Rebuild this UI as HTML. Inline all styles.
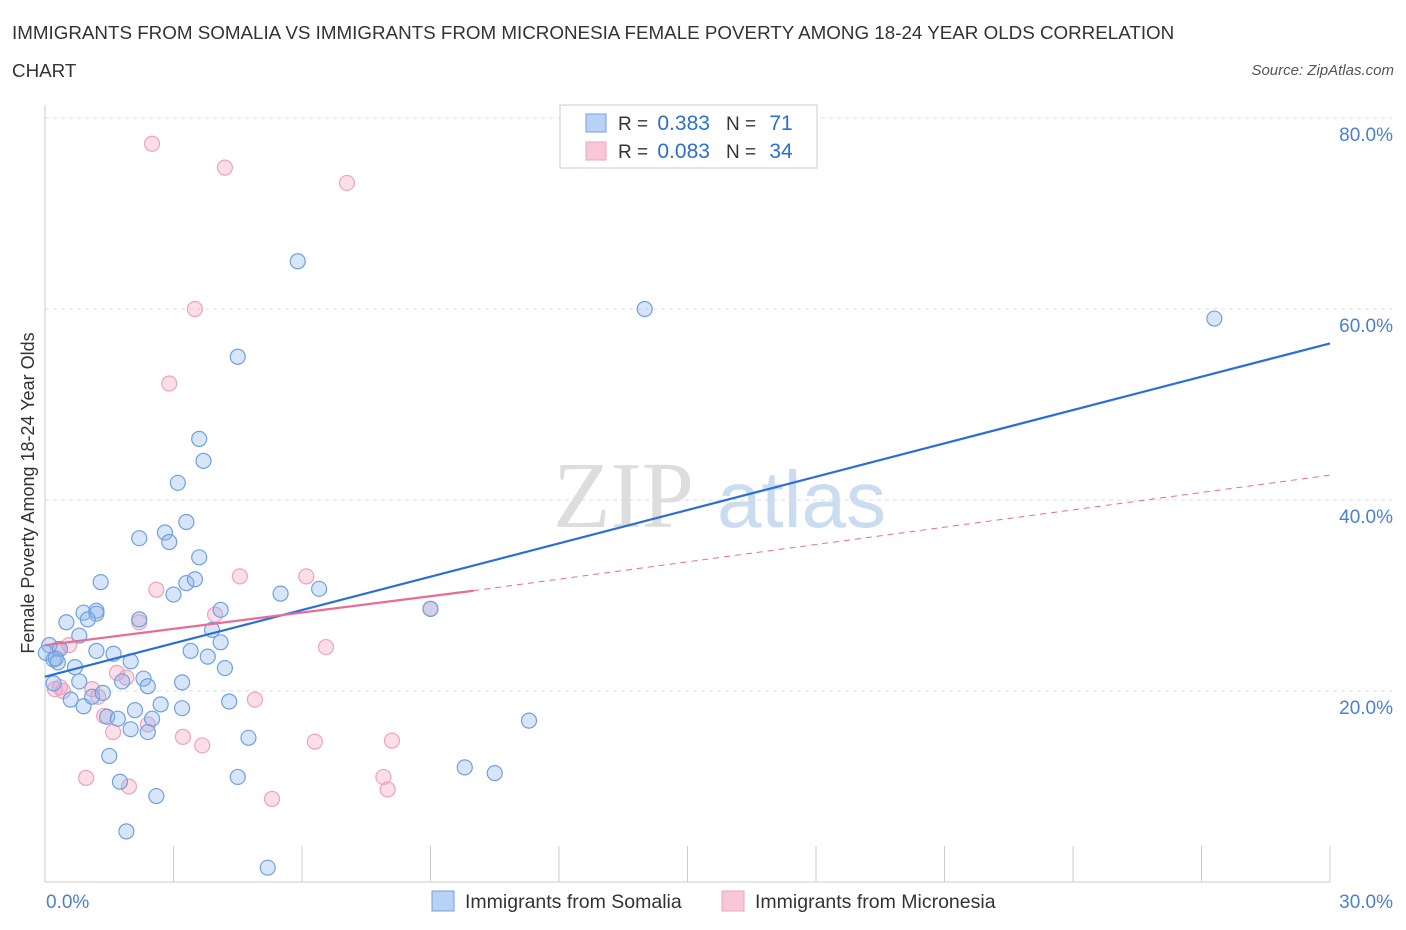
<!DOCTYPE html>
<html><head><meta charset="utf-8"><style>
body{margin:0;background:#fff;font-family:"Liberation Sans",sans-serif;}
#wrap{position:relative;width:1406px;height:930px;overflow:hidden}
.t{position:absolute;white-space:nowrap}
</style></head><body><div id="wrap">
<div class="t" style="left:12px;top:14px;font-size:18.8px;color:#333;line-height:38px">IMMIGRANTS FROM SOMALIA VS IMMIGRANTS FROM MICRONESIA FEMALE POVERTY AMONG 18-24 YEAR OLDS CORRELATION<br>CHART</div>
<div class="t" style="right:12px;top:62px;font-size:15px;color:#555;font-style:italic">Source: ZipAtlas.com</div>
<svg id="svg" width="1406" height="930" style="position:absolute;left:0;top:0"></svg>
</div>
<script>
const yTicks=[20,40,60,80];
const yTickLabels=["20.0%","40.0%","60.0%","80.0%"];
const somaliaX=[5.9,14.0,27.3,4.5,3.6,3.7,3.1,3.3,2.2,2.8,2.9,3.6,3.3,3.5,3.0,5.5,6.4,1.3,1.2,0.9,1.2,0.5,1.0,2.2,4.1,0.8,3.9,4.1,3.4,3.8,0.1,0.35,0.2,0.3,0.7,1.2,1.6,2.0,4.2,2.3,2.4,1.8,0.8,3.2,0.2,0.6,0.9,1.1,1.35,2.7,4.3,3.2,2.1,1.45,1.7,2.5,2.0,2.4,4.75,11.3,1.5,9.8,10.5,4.5,1.75,2.6,1.9,5.2,9.0,0.02,0.25];
const somaliaY=[65.0,60.0,59.0,55.0,46.4,44.1,41.8,37.7,36.0,36.6,35.6,34.0,31.3,31.7,30.1,30.2,30.7,31.4,28.1,28.2,28.4,27.2,27.5,27.5,28.5,25.8,26.4,25.1,24.2,23.6,24.8,24.4,23.3,23.0,22.5,24.2,23.9,23.1,22.4,21.3,20.5,21.0,21.0,20.9,20.8,19.1,18.4,19.4,19.8,18.6,18.9,18.2,18.0,17.3,17.1,17.1,16.0,15.7,15.1,16.9,13.2,12.0,11.4,11.0,10.5,9.0,5.3,1.5,28.6,24.0,23.4];
const micronesiaX=[2.5,4.2,7.05,3.5,2.9,4.55,6.1,2.6,3.97,2.2,9.0,0.56,6.56,1.68,1.9,1.1,0.23,0.42,1.24,2.4,1.38,1.59,3.22,3.67,6.3,8.1,4.9,0.96,1.96,7.9,8.0,5.3,0.35,0.3];
const micronesiaY=[77.3,74.8,73.2,60.0,52.2,32.0,32.0,30.6,28.0,27.2,28.6,24.8,24.6,21.9,21.4,20.2,20.2,20.0,19.4,16.5,17.4,15.7,15.2,14.3,14.7,14.8,19.1,10.9,10.0,11.0,9.7,8.7,20.4,24.4];
const fitS=[21.5,56.4], fitM=[24.8,30.5,42.6];
const X0=45,X1=1330,Y0=882,PY=9.55;
const xs=v=>X0+(v/30)*(X1-X0), ys=v=>Y0-v*PY;
const svg=document.getElementById('svg');const NS='http://www.w3.org/2000/svg';
function mk(t,a,p){const e=document.createElementNS(NS,t);for(const k in a)e.setAttribute(k,a[k]);(p||svg).appendChild(e);return e;}
let w=mk('text',{x:553,y:527,'font-size':94,fill:'#ddd','font-family':'Liberation Serif'});w.textContent='ZIP';


let w2=mk('text',{x:717,y:527,'font-size':80,fill:'#c9dcf0','font-family':'Liberation Sans'});w2.textContent='atlas';


yTicks.forEach((v,i)=>{
 const g=mk('line',{x1:X0,x2:1392,y1:ys(v),y2:ys(v),stroke:'#ddd','stroke-dasharray':'4,4'});
 
 
 const t=mk('text',{x:1393,y:ys(v)+23,'text-anchor':'end','font-size':19,fill:'#4a7fd4'});t.textContent=yTickLabels[i];
 
 
});
const ax=mk('line',{x1:X0,x2:X0,y1:105,y2:Y0,stroke:'#ccc'});


const bx=mk('line',{x1:X0,x2:X1,y1:Y0,y2:Y0,stroke:'#ccc'});


for(let i=1;i<=10;i++){const l=mk('line',{x1:xs(i*3),x2:xs(i*3),y1:Y0,y2:Y0-36,stroke:'#ccc'});
 
 }
[['0.0%',X0+1,'start'],['30.0%',1393,'end']].forEach(a=>{const t=mk('text',{x:a[1],y:908,'text-anchor':a[2],'font-size':19,fill:'#4a7fd4'});t.textContent=a[0];
 
 });
const yt=mk('text',{transform:'translate(34,493) rotate(-90)','text-anchor':'middle','font-size':18,fill:'#333'});yt.textContent='Female Poverty Among 18-24 Year Olds';


micronesiaX.forEach((x,i)=>{const c=mk('circle',{cx:xs(x),cy:ys(micronesiaY[i]),r:7.5,fill:'rgba(244,160,190,0.35)',stroke:'#eea3bd','stroke-width':1.2});
 
 });
somaliaX.forEach((x,i)=>{const c=mk('circle',{cx:xs(x),cy:ys(somaliaY[i]),r:7.5,fill:'rgba(140,180,235,0.35)',stroke:'#6fa0e0','stroke-width':1.2});
 
 });
const l1=mk('line',{x1:xs(0),y1:ys(fitS[0]),x2:xs(30),y2:ys(fitS[1]),stroke:'#2b6fd6','stroke-width':2.2});


const l2=mk('line',{x1:xs(0),y1:ys(fitM[0]),x2:xs(10),y2:ys(fitM[1]),stroke:'#e86b98','stroke-width':2.2});


const l3=mk('line',{x1:xs(10),y1:ys(fitM[1]),x2:xs(30),y2:ys(fitM[2]),stroke:'#e86b98','stroke-width':1,'stroke-dasharray':'6,5'});


const lb=mk('rect',{x:560,y:105,width:257,height:63,fill:'#fff',stroke:'#ccc'});


[[113,'#b8d2f4','#6fa0e0','0.383','71',123],[141,'#f8c8d8','#eea3bd','0.083','34',151]].forEach(r=>{
 const s=mk('rect',{x:586,y:r[0]+1,width:20,height:18,fill:r[1],stroke:r[2]});
 
 
 const t=mk('text',{x:618,y:r[5]+7,'font-size':19,fill:'#333'});
 t.innerHTML='R = <tspan fill="#2b6fd6" dx="4" font-size="21">'+r[3]+'</tspan><tspan dx="16" fill="#333">N = </tspan><tspan fill="#2b6fd6" dx="8" font-size="21">'+r[4]+'</tspan>';
 
 
});
[[432,'#b8d2f4','#6fa0e0','Immigrants from Somalia'],[722,'#f8c8d8','#eea3bd','Immigrants from Micronesia']].forEach(r=>{
 const s=mk('rect',{x:r[0],y:891,width:22,height:20,fill:r[1],stroke:r[2]});
 
 
 const t=mk('text',{x:r[0]+33,y:908,'font-size':19.5,fill:'#333'});t.textContent=r[3];
 
 
});
</script></body></html>
